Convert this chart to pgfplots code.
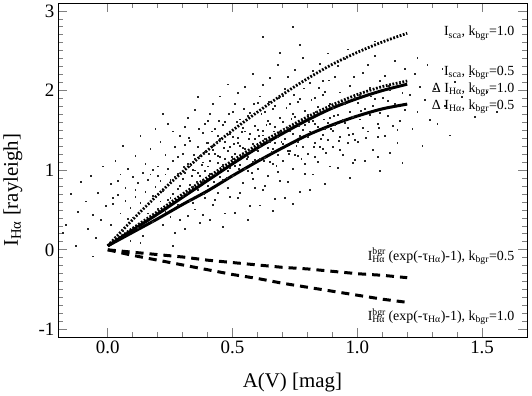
\documentclass[border=0pt]{standalone}
\usepackage{pgfplots}
\pgfplotsset{compat=1.18}
\usepackage{fontspec}
\setmainfont{Liberation Serif}

% model curves
\pgfplotstableread{
x     scaone scahalf dione dihalf bgrhalf bgrone
0.0   0.05   0.05    0.05  0.05   0.00    0.00
0.1   0.38   0.27    0.25  0.22  -0.03   -0.07
0.2   0.69   0.48    0.45  0.39  -0.06   -0.13
0.3   0.98   0.70    0.66  0.57  -0.09   -0.19
0.4   1.25   0.91    0.87  0.74  -0.13   -0.25
0.5   1.50   1.12    1.08  0.93  -0.16   -0.31
0.6   1.73   1.32    1.28  1.11  -0.19   -0.36
0.7   1.95   1.50    1.46  1.28  -0.22   -0.42
0.8   2.15   1.67    1.63  1.44  -0.24   -0.47
0.9   2.33   1.82    1.78  1.57  -0.27   -0.52
1.0   2.48   1.95    1.90  1.68  -0.30   -0.57
1.1   2.61   2.05    2.00  1.77  -0.32   -0.62
1.2   2.72   2.12    2.08  1.83  -0.35   -0.66
}\curves

\begin{document}
\begin{tikzpicture}
\begin{axis}[
  scale only axis,
  width=470bp, height=335bp,
  xmin=-0.2, xmax=1.68, ymin=-1.1, ymax=3.1,
  xtick={0,0.5,1,1.5}, minor x tick num=4,
  ytick={-1,0,1,2,3}, minor y tick num=9,
  xticklabel={\pgfmathprintnumber[fixed,fixed zerofill,precision=1]{\tick}},
  /pgf/number format/assume math mode=true,
  tick align=inside,
  major tick length=9bp, minor tick length=5bp,
  tick style={black!50, line width=0.8bp},
  axis line style={black, line width=0.6bp},
  ticklabel style={font=\fontsize{19}{20}\selectfont},
  label style={font=\fontsize{21}{22}\selectfont},
  xlabel={A(V) [mag]},
  ylabel={I\textsubscript{Hα} [rayleigh]},
  xlabel style={at={(axis description cs:0.5,-0.134)}, anchor=center},
  ylabel style={at={(axis description cs:-0.096,0.44)}, anchor=center},
  clip=false,
]
% scattered pixel measurements
\addplot[only marks, mark=square*, mark size=0.45bp, black!85, mark options={draw=none}] coordinates {
(-0.17,0.32) (-0.15,0.71) (-0.13,0.05) (-0.12,0.48) (-0.18,0.22) (-0.11,0.86)
(-0.09,0.61) (-0.08,0.27) (-0.07,0.93) (-0.06,0.44) (-0.05,0.15) (-0.04,0.72) (-0.03,0.38) (-0.02,1.05) (-0.01,0.55) (-0.06,-0.08)
(0.01,0.83) (0.01,0.31) (0.02,0.58) (0.03,1.12) (0.03,0.17) (0.04,0.69) (0.05,0.46) (0.05,0.95) (0.06,0.24) (0.06,1.31) (0.07,0.62) (0.07,0.78) (0.08,0.39) (0.08,1.02) (0.09,0.53) (0.09,0.12) (0.04,0.87) (0.02,0.66)
(0.10,0.92) (0.10,0.41) (0.11,1.18) (0.11,0.67) (0.12,0.28) (0.12,0.84) (0.13,1.43) (0.13,0.59) (0.14,0.97) (0.14,0.18) (0.15,0.73) (0.15,1.08) (0.16,0.46) (0.16,0.88) (0.17,1.27) (0.17,0.62) (0.18,0.35) (0.18,1.01) (0.19,0.79) (0.19,1.52) (0.13,0.09) (0.15,0.55) (0.17,0.95) (0.11,0.76) (0.18,0.68)
(0.20,1.05) (0.20,0.52) (0.21,0.87) (0.21,1.36) (0.22,0.31) (0.22,0.74) (0.23,1.19) (0.23,0.95) (0.24,0.63) (0.24,1.58) (0.25,0.42) (0.25,0.88) (0.26,1.12) (0.26,0.70) (0.27,1.29) (0.27,0.21) (0.28,0.96) (0.28,0.57) (0.29,1.43) (0.29,0.81) (0.20,0.93) (0.22,1.71) (0.23,0.48) (0.24,1.02) (0.25,0.66) (0.26,0.05) (0.27,0.92) (0.28,1.17) (0.29,0.38) (0.21,0.61) (0.26,1.49) (0.28,0.77)
(0.30,1.21) (0.30,0.68) (0.31,0.97) (0.31,1.55) (0.32,0.43) (0.32,1.08) (0.33,0.82) (0.33,1.37) (0.34,1.01) (0.34,0.59) (0.35,1.76) (0.35,1.14) (0.36,0.75) (0.36,1.29) (0.37,0.34) (0.37,0.93) (0.38,1.47) (0.38,1.10) (0.39,0.66) (0.39,1.23) (0.30,0.89) (0.31,0.26) (0.32,1.66) (0.33,1.05) (0.34,0.79) (0.35,0.51) (0.36,1.92) (0.37,1.18) (0.38,0.87) (0.39,1.58) (0.31,1.32) (0.33,0.62) (0.35,1.00) (0.36,0.97) (0.38,0.44) (0.39,0.99)
(0.40,1.34) (0.40,0.81) (0.41,1.12) (0.41,1.71) (0.42,0.57) (0.42,1.26) (0.43,0.95) (0.43,1.52) (0.44,1.18) (0.44,0.72) (0.45,1.93) (0.45,1.39) (0.46,0.88) (0.46,1.07) (0.47,1.61) (0.47,0.46) (0.48,1.24) (0.48,0.99) (0.49,1.46) (0.49,0.67) (0.40,1.05) (0.41,0.38) (0.42,1.84) (0.43,1.21) (0.44,1.43) (0.45,0.92) (0.46,1.57) (0.47,1.15) (0.48,2.08) (0.49,1.29) (0.40,1.62) (0.41,0.96) (0.42,1.31) (0.43,0.63) (0.44,1.09) (0.45,1.17) (0.46,0.29) (0.47,1.36) (0.48,0.78) (0.49,1.03)
(0.50,1.42) (0.50,0.93) (0.51,1.21) (0.51,1.83) (0.52,0.66) (0.52,1.35) (0.53,1.07) (0.53,1.64) (0.54,1.28) (0.54,0.84) (0.55,2.05) (0.55,1.49) (0.56,0.99) (0.56,1.17) (0.57,1.72) (0.57,0.55) (0.58,1.33) (0.58,1.11) (0.59,1.56) (0.59,0.78) (0.50,1.15) (0.51,0.47) (0.52,1.97) (0.53,1.31) (0.54,1.53) (0.55,1.02) (0.56,1.68) (0.57,1.25) (0.58,2.21) (0.59,1.39) (0.50,1.74) (0.51,1.06) (0.52,1.41) (0.53,0.72) (0.54,1.19) (0.55,1.27) (0.56,0.38) (0.57,1.46) (0.58,0.89) (0.59,1.13)
(0.60,1.51) (0.60,1.02) (0.61,1.31) (0.61,1.93) (0.62,0.75) (0.62,1.44) (0.63,1.16) (0.63,1.74) (0.64,1.37) (0.64,0.93) (0.65,2.16) (0.65,1.58) (0.66,1.08) (0.66,1.27) (0.67,1.81) (0.67,0.64) (0.68,1.42) (0.68,1.20) (0.69,1.66) (0.69,0.87) (0.60,1.24) (0.61,0.56) (0.62,2.07) (0.63,1.40) (0.64,1.62) (0.65,1.11) (0.66,1.77) (0.67,1.34) (0.68,2.33) (0.69,1.48) (0.60,1.85) (0.61,1.15) (0.62,1.50) (0.63,0.81) (0.64,1.28) (0.65,1.36) (0.66,0.49) (0.67,1.55) (0.68,0.98) (0.69,2.48)
(0.70,1.61) (0.70,1.12) (0.71,1.40) (0.71,2.02) (0.72,0.85) (0.72,1.53) (0.73,1.25) (0.73,1.83) (0.74,1.46) (0.74,1.02) (0.75,2.26) (0.75,1.67) (0.76,1.18) (0.76,1.36) (0.77,1.90) (0.77,0.73) (0.78,1.51) (0.78,1.29) (0.79,1.75) (0.79,0.96) (0.70,1.33) (0.71,0.65) (0.72,2.17) (0.73,1.49) (0.74,1.71) (0.75,1.20) (0.76,1.86) (0.77,1.43) (0.78,2.41) (0.79,1.57) (0.70,1.94) (0.72,1.24) (0.74,0.58) (0.76,1.59) (0.77,2.58) (0.79,1.08)
(0.80,1.70) (0.80,1.21) (0.81,1.49) (0.81,2.10) (0.82,0.95) (0.82,1.62) (0.83,1.34) (0.83,1.91) (0.84,1.55) (0.84,1.11) (0.85,2.34) (0.85,1.76) (0.86,1.27) (0.86,1.45) (0.87,1.99) (0.87,0.83) (0.88,1.60) (0.88,1.38) (0.89,1.84) (0.89,1.05) (0.80,1.42) (0.81,0.76) (0.82,2.25) (0.83,1.58) (0.84,1.80) (0.85,1.29) (0.86,1.95) (0.87,1.52) (0.88,2.47) (0.89,1.66) (0.83,1.17) (0.86,2.12)
(0.90,1.78) (0.90,1.29) (0.91,1.57) (0.91,2.17) (0.92,1.03) (0.92,1.70) (0.93,1.42) (0.93,1.98) (0.94,1.63) (0.94,1.19) (0.95,2.40) (0.95,1.83) (0.96,1.35) (0.96,1.53) (0.97,2.06) (0.97,0.91) (0.98,1.67) (0.98,1.46) (0.99,1.91) (0.99,1.13) (0.90,1.50) (0.92,2.31) (0.93,1.26) (0.95,1.60) (0.96,2.52) (0.97,1.74) (0.98,1.09) (0.99,1.38)
(1.00,1.85) (1.00,1.36) (1.01,1.64) (1.02,2.23) (1.03,1.12) (1.03,1.77) (1.04,1.49) (1.05,2.04) (1.05,1.70) (1.06,1.26) (1.07,2.44) (1.07,1.90) (1.08,1.42) (1.08,1.58) (1.09,2.12) (1.09,0.99) (1.01,1.95) (1.02,1.53) (1.04,2.33) (1.06,1.81) (1.08,1.17) (1.09,1.72)
(1.10,1.91) (1.11,1.43) (1.11,2.19) (1.12,1.69) (1.13,1.22) (1.13,2.01) (1.14,1.56) (1.15,2.37) (1.15,1.83) (1.16,1.34) (1.17,2.11) (1.17,1.62) (1.18,1.97) (1.18,1.09) (1.19,1.76) (1.19,2.28) (1.12,1.87) (1.16,1.51)
(1.21,1.95) (1.22,1.52) (1.23,2.21) (1.24,1.74) (1.25,2.05) (1.26,1.31) (1.27,1.88) (1.28,2.33) (1.29,1.63) (1.24,2.41)
(1.31,2.02) (1.32,1.58) (1.34,2.27) (1.35,1.81) (1.37,1.44) (1.39,2.11)
(1.42,1.92) (1.45,2.18) (1.47,1.67) (1.52,1.99) (1.56,1.73)
(0.74,2.80) (1.07,2.62) (0.62,2.68)
(0.305,1.04) (0.315,0.72) (0.325,1.41) (0.345,1.19) (0.355,0.86) (0.365,1.52) (0.375,1.07) (0.385,0.71) (0.395,1.34) (0.335,0.93)
(0.405,1.21) (0.415,1.49) (0.425,0.86) (0.435,1.36) (0.445,1.62) (0.455,1.05) (0.465,1.28) (0.475,0.91) (0.485,1.71) (0.495,1.17)
(0.505,1.33) (0.515,1.61) (0.525,1.02) (0.535,1.48) (0.545,1.77) (0.555,1.15) (0.565,1.39) (0.575,0.97) (0.585,1.84) (0.595,1.26)
(0.605,1.43) (0.615,1.71) (0.625,1.12) (0.635,1.57) (0.645,1.86) (0.655,1.23) (0.665,1.49) (0.675,1.06) (0.685,1.91) (0.695,1.36)
(0.705,1.52) (0.715,1.79) (0.725,1.21) (0.735,1.65) (0.745,1.95) (0.755,1.31) (0.765,1.56) (0.775,1.14) (0.785,2.03) (0.795,1.44)
(0.805,1.61) (0.815,1.88) (0.825,1.29) (0.835,1.73) (0.845,2.04) (0.855,1.39) (0.865,1.64) (0.875,1.22) (0.885,2.13) (0.895,1.52)
(0.905,1.68) (0.925,1.37) (0.945,1.85) (0.965,1.45) (0.985,2.17) (1.015,1.75) (1.035,1.41) (1.055,1.93) (1.085,1.53) (1.125,2.06)
};
\addplot[black, line width=2.8bp, dash pattern=on 1.8bp off 1.6bp, smooth] table[x=x, y=scaone] {\curves};
\addplot[black, line width=2.8bp, dash pattern=on 1.8bp off 1.6bp, smooth] table[x=x, y=scahalf] {\curves};
\addplot[black, line width=3bp, smooth] table[x=x, y=dione] {\curves};
\addplot[black, line width=3bp, smooth] table[x=x, y=dihalf] {\curves};
\addplot[black, line width=3bp, dash pattern=on 8bp off 6bp] table[x=x, y=bgrhalf] {\curves};
\addplot[black, line width=3bp, dash pattern=on 8bp off 6bp] table[x=x, y=bgrone] {\curves};

\begin{scope}[every node/.style={anchor=east, font=\fontsize{14}{15}\selectfont, inner sep=0pt}]
\node at (axis cs:1.63,2.72) {I\textsubscript{sca}, k\textsubscript{bgr}=1.0};
\node at (axis cs:1.63,2.22) {I\textsubscript{sca}, k\textsubscript{bgr}=0.5};
\node at (axis cs:1.63,2.01) {Δ I\textsubscript{Hα}, k\textsubscript{bgr}=1.0};
\node at (axis cs:1.63,1.80) {Δ I\textsubscript{Hα}, k\textsubscript{bgr}=0.5};
\node at (axis cs:1.63,-0.08) {I\rlap{\textsuperscript{bgr}}\textsubscript{Hα} (exp(-τ\textsubscript{Hα})-1), k\textsubscript{bgr}=0.5};
\node at (axis cs:1.63,-0.84) {I\rlap{\textsuperscript{bgr}}\textsubscript{Hα} (exp(-τ\textsubscript{Hα})-1), k\textsubscript{bgr}=1.0};
\end{scope}
\end{axis}
\path (current axis.south west) ++(-57bp,-58bp) rectangle ++(532bp,396bp);
\end{tikzpicture}
\end{document}
